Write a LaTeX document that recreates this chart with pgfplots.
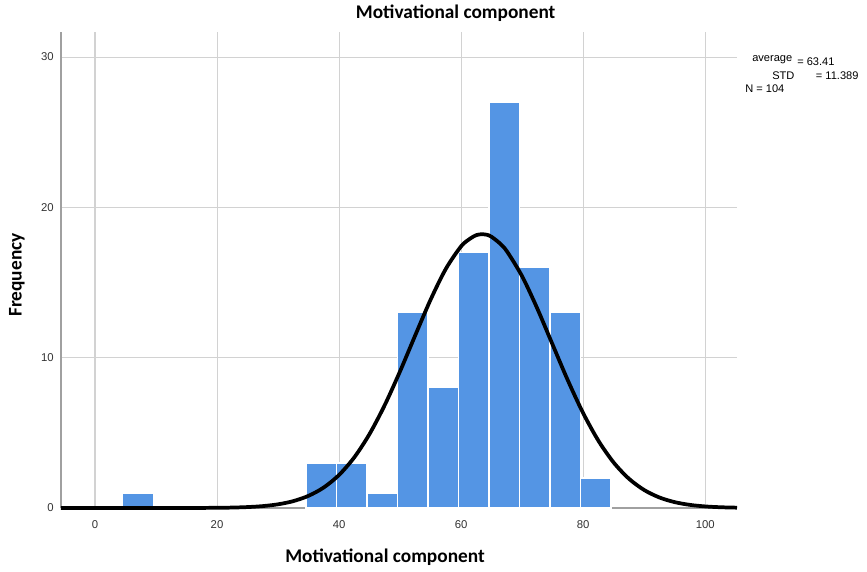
\documentclass[border=0pt]{standalone}
\usepackage{fontspec}
\setmainfont{Liberation Sans}
\newfontfamily\lblfont{Carlito}
\usepackage{pgfplots}
\pgfplotsset{compat=1.18}
\definecolor{barblue}{RGB}{84,149,228}
\definecolor{gridgray}{RGB}{210,210,210}
\definecolor{axgray}{RGB}{160,160,160}
\begin{document}
\begin{tikzpicture}
\useasboundingbox (-45.75pt,-47.25pt) rectangle (604.5pt,381pt);
\begin{axis}[
  at={(0,0)}, anchor=south west,
  scale only axis, width=507pt, height=357pt,
  xmin=-5.57, xmax=105.2, ymin=0, ymax=31.67,
  axis x line*=bottom, axis y line*=left,
  axis line style={axgray, line width=0.8pt, -},
  xtick={0,20,40,60,80,100}, ytick={0,10,20,30},
  grid=major, major grid style={gridgray, line width=0.8pt},
  major tick length=0pt,
  tick label style={font=\fontsize{8.5}{10}\selectfont, text=black!80},
  /pgf/number format/assume math mode=true,
  xticklabel style={yshift=-6pt},
  yticklabel style={xshift=-2pt},
  clip=false,
]
\addplot[ybar interval, fill=barblue, draw=white, line width=1pt] coordinates {(4.55,1) (9.55,1)};
\addplot[ybar interval, fill=barblue, draw=white, line width=1pt] coordinates {
(34.55,3) (39.55,3) (44.55,1) (49.55,13) (54.55,8) (59.55,17) (64.55,27) (69.55,16) (74.55,13) (79.55,2) (84.55,2)};
\addplot[black, line width=2.8pt, smooth] coordinates {
(-5.57,0) (0,0) (5,0) (10,0.0003) (15,0.0022) (20,0.0127) (22.5,0.0288) (25,0.0618)
(27.5,0.126) (30,0.246) (32.5,0.458) (35,0.812) (37.5,1.369) (40,2.202) (42.5,3.377)
(45,4.933) (47.5,6.866) (50,9.107) (52.5,11.512) (55,13.869) (57.5,15.920) (60,17.417)
(61.5,17.93) (62.5,18.157) (63.41,18.215) (64.3,18.17) (65,18.038) (66.3,17.62) (67.5,17.077) (70,15.408) (72.5,13.248)
(75,10.855) (77.5,8.474) (80,6.304) (82.5,4.470) (85,3.020) (87.5,1.945) (90,1.194)
(92.5,0.698) (95,0.389) (97.5,0.207) (100,0.1045) (102.5,0.0504) (105.2,0.022)};
\end{axis}
\node[font=\lblfont\bfseries\fontsize{14.5}{16}\selectfont] at (296pt,371pt) {Motivational component};
\node[font=\lblfont\bfseries\fontsize{14.5}{16}\selectfont] at (243pt,-36.75pt) {Motivational component};
\node[font=\lblfont\bfseries\fontsize{14.5}{16}\selectfont, rotate=90] at (-33pt,174.75pt) {Frequency};
\begin{scope}[every node/.style={font=\fontsize{8.3}{9}\selectfont, anchor=west, inner sep=0pt}]
\node at (518.25pt,336pt) {average};
\node at (552pt,334.5pt) {= 63.41};
\node at (533.25pt,324pt) {STD};
\node at (566pt,324pt) {= 11.389};
\node at (513pt,314.25pt) {N = 104};
\end{scope}
\end{tikzpicture}
\end{document}
